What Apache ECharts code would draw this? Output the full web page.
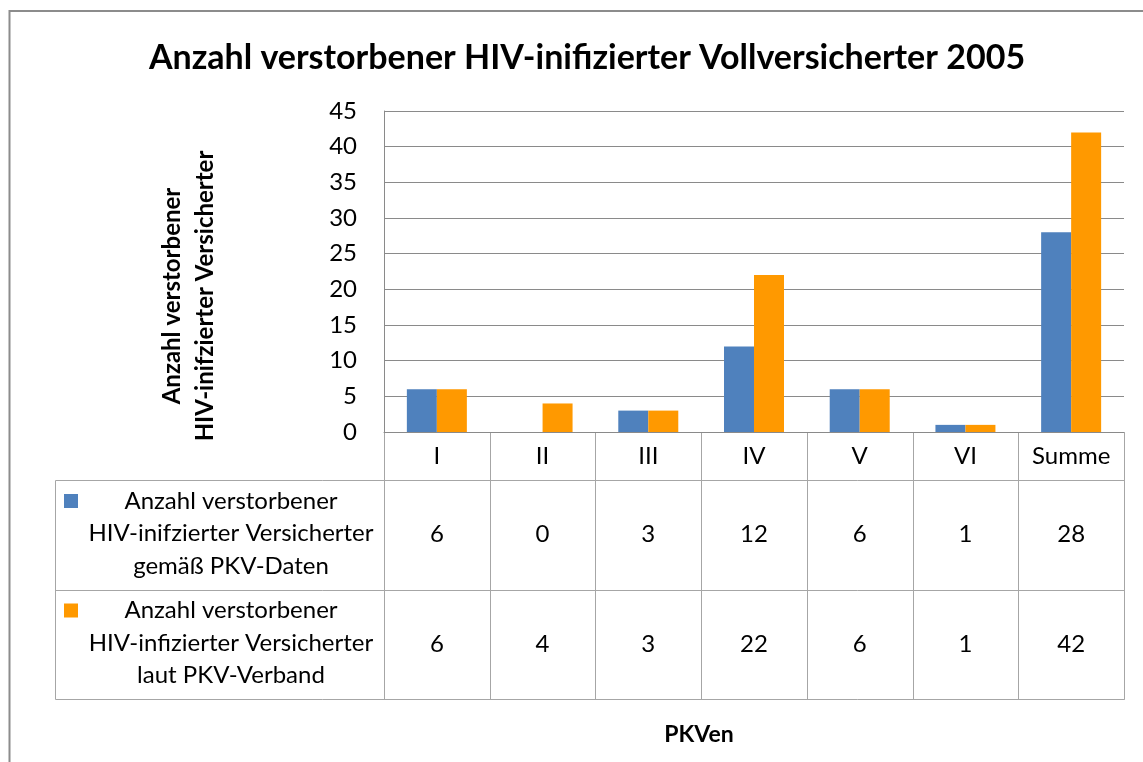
<!DOCTYPE html>
<html>
<head>
<meta charset="utf-8">
<script src="https://cdn.jsdelivr.net/npm/echarts@6/dist/echarts.min.js"></script>
<style>
  html,body{margin:0;padding:0;background:#fff;}
  #chart{width:1143px;height:762px;}
</style>
</head>
<body>
<div id="chart"></div>
<script>
  var categories = ['I', 'II', 'III', 'IV', 'V', 'VI', 'Summe'];
  var pkvDaten = [6, 0, 3, 12, 6, 1, 28];
  var pkvVerband = [6, 4, 3, 22, 6, 1, 42];
  var seriesNames = [
    'Anzahl verstorbener\nHIV-inifzierter Versicherter\ngemäß PKV-Daten',
    'Anzahl verstorbener\nHIV-infizierter Versicherter\nlaut PKV-Verband'
  ];
  var seriesColors = ['#4F81BD', '#FF9900'];
  var seriesData = [pkvDaten, pkvVerband];
  var yTicks = [0, 5, 10, 15, 20, 25, 30, 35, 40, 45];

  var font = 'Lato, "Liberation Sans", sans-serif';
  var myChart = echarts.init(document.getElementById('chart'));

  var option = {
    animation: false,
    title: {
      text: 'Anzahl verstorbener HIV-inifizierter Vollversicherter 2005',
      left: 582,
      top: 36,
      textAlign: 'center',
      textStyle: { fontFamily: font, fontSize: 34, fontWeight: 'bold', color: '#000' }
    },
    grid: { left: 384, right: 19, top: 111, bottom: 330, containLabel: false },
    xAxis: {
      type: 'category',
      data: categories,
      axisLine: { lineStyle: { color: '#8a8a8a', width: 1 } },
      axisTick: { show: false },
      axisLabel: { show: false }
    },
    yAxis: {
      type: 'value',
      min: yTicks[0],
      max: yTicks[yTicks.length - 1],
      interval: 5,
      axisLine: { show: true, lineStyle: { color: '#8a8a8a' } },
      axisTick: { show: false },
      axisLabel: { fontFamily: font, fontSize: 24, color: '#000', margin: 27 },
      splitLine: { lineStyle: { color: '#8a8a8a' } }
    },
    series: [
      { name: 'PKV-Daten', type: 'bar', data: pkvDaten, barWidth: 30, barGap: '0%',
        itemStyle: { color: seriesColors[0] } },
      { name: 'PKV-Verband', type: 'bar', data: pkvVerband, barWidth: 30, barGap: '0%',
        itemStyle: { color: seriesColors[1] } }
    ]
  };
  myChart.setOption(option);

  // Datentabelle unter der Achse
  var x0 = myChart.convertToPixel({ xAxisIndex: 0 }, categories[0]);
  var band = myChart.convertToPixel({ xAxisIndex: 0 }, categories[1]) - x0;
  var tLeft = x0 - band / 2;
  var yBase = myChart.convertToPixel({ yAxisIndex: 0 }, 0);
  var headH = 48, rowH = 109.5, keyLeft = 55;
  var tRight = tLeft + band * categories.length;
  var tBottom = yBase + headH + rowH * 2;
  var lineCol = '#a6a6a6';
  var els = [];

  function px(v) { return Math.round(v) + 0.5; }
  function line(x1, y1, x2, y2, col) {
    els.push({ type: 'line', silent: true,
      shape: { x1: px(x1), y1: px(y1), x2: px(x2), y2: px(y2) },
      style: { stroke: col || lineCol, lineWidth: 1 } });
  }
  function txt(s, x, y, size, weight, lh) {
    els.push({ type: 'text', silent: true, x: x, y: y,
      style: { text: s, fontFamily: font, fontSize: size, fontWeight: weight || 'normal',
        fill: '#000', align: 'center', verticalAlign: 'middle', lineHeight: lh || size * 1.2 } });
  }

  // outer frame
  els.push({ type: 'rect', silent: true, shape: { x: 9.5, y: 11, width: 1300, height: 900 },
    style: { fill: 'none', stroke: '#8c8c8c', lineWidth: 2 } });

  for (var i = 0; i <= categories.length; i++) {
    line(tLeft + band * i, yBase, tLeft + band * i, tBottom);
  }
  line(keyLeft, yBase + headH, tRight, yBase + headH);
  line(keyLeft, yBase + headH + rowH, tRight, yBase + headH + rowH);
  line(keyLeft, tBottom, tRight, tBottom);
  line(keyLeft, yBase + headH, keyLeft, tBottom);
  line(tRight, yBase, tRight, tBottom);

  for (var c = 0; c < categories.length; c++) {
    var cx = tLeft + band * (c + 0.5);
    txt(categories[c], cx, yBase + headH / 2, 24);
    for (var s = 0; s < seriesData.length; s++) {
      txt(String(seriesData[s][c]), cx, yBase + headH + rowH * (s + 0.5), 24);
    }
  }
  for (var s2 = 0; s2 < seriesNames.length; s2++) {
    var rowTop = yBase + headH + rowH * s2;
    els.push({ type: 'rect', silent: true, shape: { x: 64, y: rowTop + 14, width: 14, height: 14 },
      style: { fill: seriesColors[s2] } });
    txt(seriesNames[s2], 231, rowTop + rowH / 2 - 1, 24, 'normal', 32.5);
  }

  // Achsentitel
  els.push({ type: 'text', silent: true, x: 189, y: 296, rotation: Math.PI / 2,
    style: { text: 'Anzahl verstorbener\nHIV-inifzierter Versicherter', fontFamily: font,
      fontSize: 24, fontWeight: 'bold', fill: '#000', align: 'center', verticalAlign: 'middle', lineHeight: 33 } });
  txt('PKVen', 699, 735, 23, 'bold');

  myChart.setOption({ graphic: els });
</script>
</body>
</html>
